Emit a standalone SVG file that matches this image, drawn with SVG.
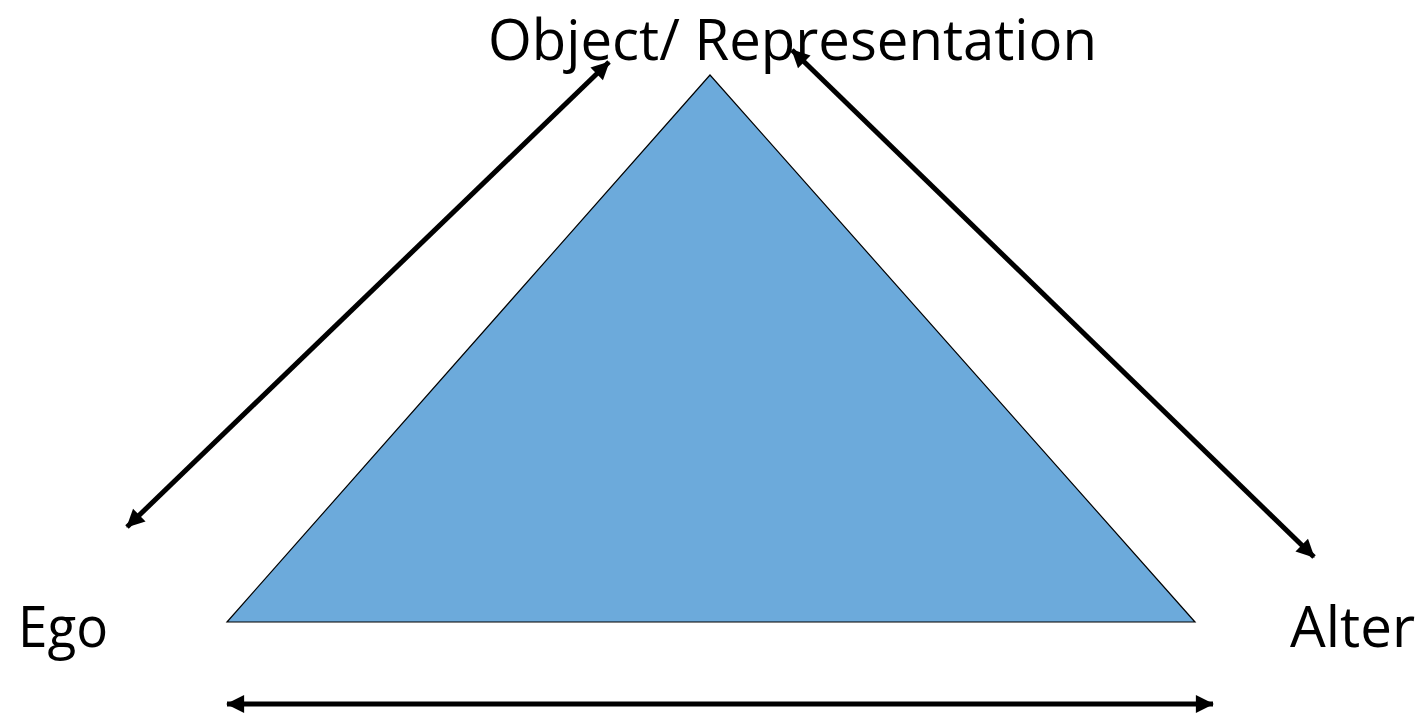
<svg xmlns="http://www.w3.org/2000/svg" width="1425" height="715" viewBox="0 0 1425 715">
<style>
.lbl{font-family:"Open Sans","Liberation Sans",sans-serif;font-size:56px;fill:#000}
.conn{stroke:#000;stroke-width:5;fill:none;marker-start:url(#ah);marker-end:url(#ah)}
</style>
<defs>
<marker id="ah" viewBox="0 0 10 10" refX="9.5" refY="5" markerWidth="4.2" markerHeight="3.6" orient="auto-start-reverse" markerUnits="strokeWidth">
<path d="M0,0 L10,5 L0,10 Z" fill="#000"/>
</marker>
</defs>
<rect width="1425" height="715" fill="#fff"/>
<g id="triangle">
<polygon points="710,75 227,622 1195,622" fill="#6CAADB" stroke="#000" stroke-width="1.2"/>
</g>
<g id="object">
<text class="lbl" x="488" y="60" textLength="609" lengthAdjust="spacingAndGlyphs">Object/ Representation</text>
</g>
<g id="ego">
<text class="lbl" x="18" y="647" textLength="90" lengthAdjust="spacingAndGlyphs">Ego</text>
</g>
<g id="alter">
<text class="lbl" x="1290" y="647" textLength="125" lengthAdjust="spacingAndGlyphs">Alter</text>
</g>
<g id="connectors">
<line class="conn" x1="127" y1="527" x2="609" y2="62"/>
<line class="conn" x1="792" y1="50" x2="1314" y2="557"/>
<line class="conn" x1="227" y1="704" x2="1213" y2="704"/>
</g>
</svg>
